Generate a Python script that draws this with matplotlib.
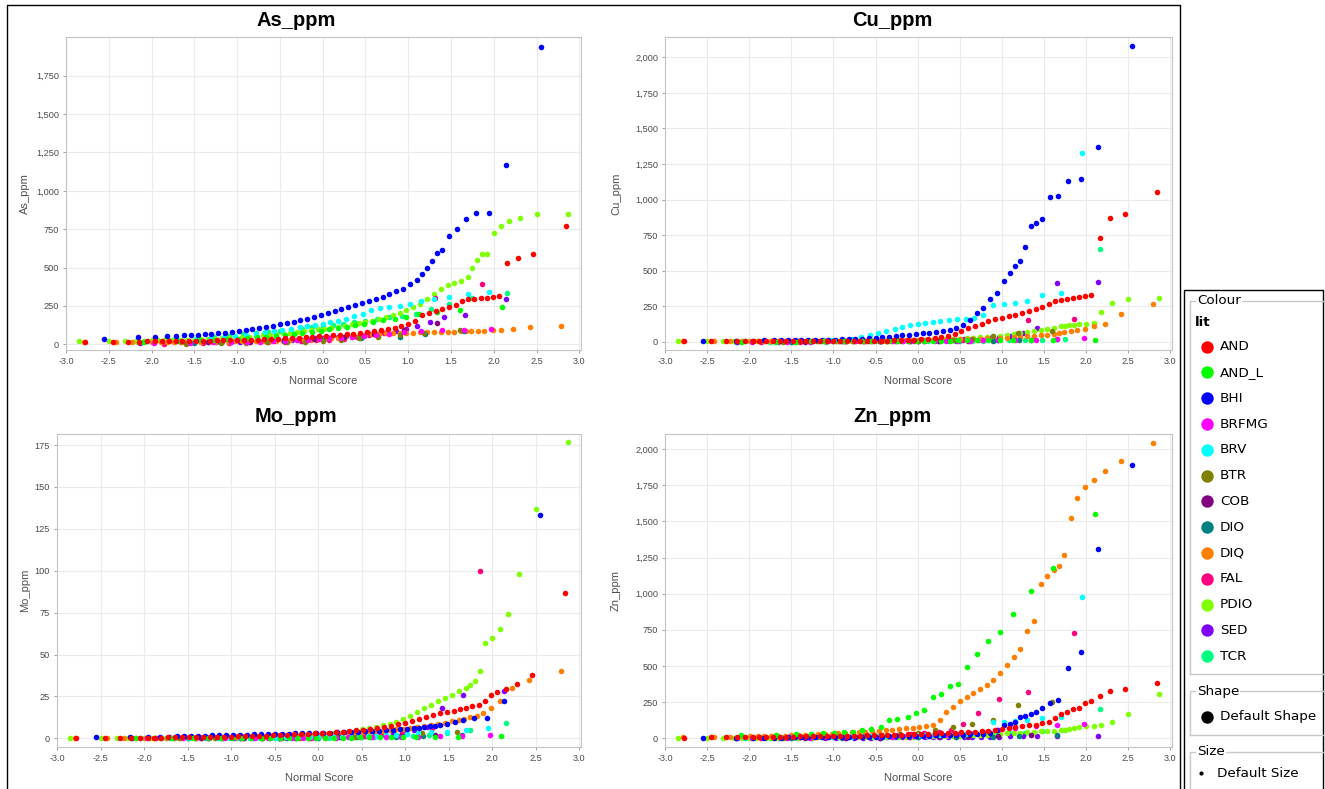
import matplotlib
matplotlib.use('Agg')
import matplotlib.pyplot as plt
from matplotlib.ticker import FixedLocator, FuncFormatter

plt.rcParams['font.family'] = ['Liberation Sans', 'DejaVu Sans']

W, H = 1325, 789

LITHS = ['AND', 'AND_L', 'BHI', 'BRFMG', 'BRV', 'BTR', 'COB', 'DIO', 'DIQ', 'FAL', 'PDIO', 'SED', 'TCR']
COLOURS = ['#ff0000', '#00ff00', '#0000ff', '#ff00ff', '#00ffff', '#808000', '#800080',
           '#008080', '#ff8000', '#ff0080', '#80ff00', '#8000ff', '#00ff80']

X_TICKS = [-3.0, -2.5, -2.0, -1.5, -1.0, -0.5, 0.0, 0.5, 1.0, 1.5, 2.0, 2.5, 3.0]
AS_YTICKS = [0, 250, 500, 750, 1000, 1250, 1500, 1750]
CU_YTICKS = [0, 250, 500, 750, 1000, 1250, 1500, 1750, 2000]
MO_YTICKS = [0, 25, 50, 75, 100, 125, 150, 175]
ZN_YTICKS = [0, 250, 500, 750, 1000, 1250, 1500, 1750, 2000]

# ---- normal scores (x) per lithology ----
AND_X = [-2.78, -2.45, -2.28, -2.15, -2.05, -1.96, -1.88, -1.80, -1.72, -1.64, -1.56,
         -1.48, -1.40, -1.32, -1.24, -1.16, -1.08, -1.00, -0.92, -0.84, -0.76, -0.68, -0.60, -0.52, -0.44, -0.36, -0.28, -0.20, -0.12, -0.04,
         0.04, 0.12, 0.20, 0.28, 0.36, 0.44, 0.52, 0.60, 0.68, 0.76, 0.84, 0.92, 1.00, 1.08, 1.16, 1.24, 1.32, 1.40, 1.48, 1.56,
         1.63, 1.70, 1.77, 1.85, 1.92, 1.99, 2.06, 2.16, 2.28, 2.46, 2.84]
DIQ_X = [-2.79, -2.42, -2.23, -2.09, -1.99, -1.89, -1.82, -1.74,
         -1.66, -1.58, -1.50, -1.42, -1.34, -1.26, -1.18, -1.10, -1.02, -0.94, -0.86, -0.78, -0.70, -0.62, -0.54, -0.46, -0.38, -0.30, -0.22, -0.14, -0.06,
         0.02, 0.10, 0.18, 0.26, 0.34, 0.42, 0.50, 0.58, 0.66, 0.74, 0.82, 0.90, 0.98, 1.06, 1.14, 1.22, 1.30, 1.38, 1.46, 1.54, 1.62,
         1.68, 1.74, 1.82, 1.89, 1.99, 2.09, 2.23, 2.42, 2.79]
PDIO_X = [-2.85, -2.50, -2.31, -2.18, -2.09, -2.00, -1.92, -1.86, -1.80, -1.74,
          -1.66, -1.58, -1.50, -1.42, -1.34, -1.26, -1.18, -1.10, -1.02, -0.94, -0.86, -0.78, -0.70, -0.62, -0.54, -0.46, -0.38, -0.30, -0.22, -0.14, -0.06,
          0.02, 0.10, 0.18, 0.26, 0.34, 0.42, 0.50, 0.58, 0.66, 0.74, 0.82, 0.90, 0.98, 1.06, 1.14, 1.22, 1.30, 1.38, 1.46, 1.54, 1.62,
          1.70, 1.75, 1.80, 1.86, 1.92, 2.00, 2.09, 2.18, 2.31, 2.50, 2.87]
BHI_X = [-2.55, -2.16, -1.96, -1.82, -1.71, -1.62,
         -1.54, -1.46, -1.38, -1.30, -1.22, -1.14, -1.06, -0.98, -0.90, -0.82, -0.74, -0.66, -0.58, -0.50, -0.42, -0.34, -0.26,
         -0.18, -0.10, -0.02, 0.06, 0.14, 0.22, 0.30, 0.38, 0.46, 0.54, 0.62, 0.70, 0.78, 0.86, 0.94, 1.02, 1.10,
         1.16, 1.22, 1.28, 1.34, 1.40, 1.48, 1.57, 1.67, 1.79, 1.94, 2.14, 2.55]
AND_L_X = [-2.10, -1.68, -1.44, -1.27, -1.12, -0.99, -0.88, -0.77, -0.66, -0.55, -0.44, -0.34, -0.24, -0.12,
           -0.02, 0.08, 0.18, 0.28, 0.38, 0.48, 0.59, 0.71, 0.84, 0.98, 1.13, 1.34, 1.61, 2.10]
BRV_X = [-2.05, -1.70, -1.48, -1.30, -1.15, -1.02, -0.90, -0.78, -0.67, -0.57, -0.47, -0.37, -0.27, -0.18, -0.09,
         0.00, 0.09, 0.18, 0.27, 0.37, 0.47, 0.57, 0.67, 0.78, 0.90, 1.02, 1.15, 1.30, 1.48, 1.70, 1.95]
TCR_X = [-2.16, -1.75, -1.48, -1.27, -1.09, -0.93, -0.78, -0.64, -0.50, -0.37, -0.24, -0.12, 0.00,
         0.12, 0.24, 0.37, 0.50, 0.64, 0.78, 0.93, 1.09, 1.27, 1.48, 1.75, 2.16]
SED_X = [-2.14, -1.66, -1.42, -1.25, -1.10, -0.97, -0.86, -0.75, -0.65, -0.55, -0.45, -0.36, -0.27, -0.18, -0.09,
         0.00, 0.09, 0.18, 0.27, 0.36, 0.45, 0.55, 0.65, 0.75, 0.86, 0.97, 1.10, 1.25, 1.42, 1.66, 2.14]
COB_X = [-1.34, -0.85, -0.45, -0.10, 0.25, 0.60, 0.95, 1.34]
BTR_X = [-1.60, -1.19, -0.90, -0.65, -0.42, -0.21, 0.00, 0.21, 0.42, 0.65, 0.90, 1.19, 1.60]
DIO_X = [-1.50, -0.90, -0.45, 0.00, 0.45, 0.90, 1.20, 1.65]
BRFMG_X = [-1.97, -1.55, -1.28, -1.07, -0.89, -0.73, -0.58, -0.44, -0.30, -0.17, -0.04,
           0.08, 0.21, 0.34, 0.48, 0.62, 0.78, 0.95, 1.15, 1.40, 1.65, 1.97]
FAL_X = [-1.86, -1.40, -1.10, -0.86, -0.64, -0.44, -0.25, -0.08, 0.08, 0.25, 0.40, 0.54, 0.72, 0.96, 1.31, 1.86]

# ---- As_ppm ----
AS_AND = [15, 15, 18, 18, 20, 20, 20, 21, 22, 22, 22,
          23, 24, 24, 25, 26, 27, 28, 29, 30, 31, 33, 35, 37, 39, 41, 44, 46, 49, 52,
          55, 58, 62, 66, 70, 75, 80, 86, 93, 100, 108, 118, 130, 150, 190, 205, 215, 228, 240, 255,
          285, 292, 296, 300, 305, 310, 318, 532, 562, 590, 770]
AS_DIQ = [15, 12, 14, 14, 14, 15, 15, 15,
          15, 16, 16, 16, 17, 17, 18, 18, 19, 19, 20, 20, 21, 22, 23, 24, 25, 27, 29, 31, 33,
          35, 38, 41, 45, 50, 55, 60, 64, 68, 71, 73, 75, 76, 77, 78, 79, 80, 81, 82, 83, 84,
          85, 86, 87, 89, 91, 94, 98, 110, 122]
AS_PDIO = [20, 20, 22, 22, 24, 25, 25, 26, 27, 28,
           29, 30, 31, 32, 34, 36, 38, 40, 43, 46, 50, 54, 58, 62, 67, 72, 77, 82, 87, 92, 97,
           102, 108, 115, 122, 130, 138, 146, 155, 165, 176, 188, 205, 222, 240, 265, 295, 330, 360, 385, 400, 415,
           440, 500, 548, 587, 587, 722, 772, 803, 820, 846, 846]
AS_BHI = [35, 45, 48, 52, 55, 58,
          60, 62, 65, 68, 72, 76, 80, 86, 92, 98, 105, 112, 120, 130, 138, 148, 158,
          168, 180, 192, 205, 215, 228, 240, 255, 270, 284, 298, 310, 328, 345, 362, 390, 420,
          457, 498, 542, 598, 612, 705, 750, 814, 857, 857, 1165, 1940]
AS_AND_L = [15, 20, 25, 28, 32, 36, 40, 45, 50, 56, 62, 68, 75, 82, 90, 98, 106, 115, 124, 134, 145, 156, 168, 180, 195, 210, 225, 240]
AS_BRV = [20, 28, 35, 40, 48, 55, 62, 70, 78, 86, 94, 102, 110, 118, 126, 135, 145, 155, 168, 182, 200, 225, 235, 240, 250, 262, 285, 295, 310, 325, 343]
AS_TCR = [15, 25, 35, 45, 55, 64, 72, 80, 88, 95, 102, 110, 118, 125, 135, 145, 155, 165, 175, 185, 200, 230, 260, 300, 335]
AS_SED = [10, 12, 14, 15, 17, 18, 20, 22, 24, 26, 28, 30, 32, 35, 38, 41, 44, 48, 52, 56, 60, 65, 70, 78, 88, 100, 120, 146, 178, 189, 292]
AS_COB = [12, 18, 25, 35, 48, 65, 95, 140]
AS_BTR = [5, 8, 10, 12, 15, 18, 22, 28, 38, 48, 62, 75, 91]
AS_DIO = [10, 15, 20, 28, 38, 50, 70, 90]
AS_BRFMG = [8, 10, 12, 14, 16, 18, 20, 23, 26, 30, 34, 38, 43, 48, 55, 62, 70, 80, 88, 91, 94, 97]
AS_FAL = [5, 8, 10, 12, 15, 18, 22, 26, 30, 36, 45, 60, 75, 95, 305, 390]

# ---- Cu_ppm ----
CU_AND = [2, 3, 3, 3, 3, 3, 3, 3, 3, 3, 4,
          4, 4, 4, 4, 4, 4, 4, 5, 5, 5, 5, 5, 6, 7, 8, 9, 11, 13, 15,
          18, 22, 27, 33, 42, 55, 75, 95, 112, 128, 145, 160, 170, 180, 190, 200, 215, 228, 245, 265,
          285, 295, 300, 305, 312, 320, 330, 730, 870, 900, 1050]
CU_DIQ = [3, 3, 3, 3, 3, 3, 3, 3,
          3, 3, 4, 4, 4, 4, 4, 5, 5, 5, 5, 6, 6, 6, 7, 7, 8, 8, 9, 9, 10,
          10, 11, 12, 13, 14, 15, 16, 18, 19, 21, 23, 25, 27, 29, 32, 35, 38, 42, 46, 50, 56,
          62, 68, 74, 82, 92, 112, 128, 195, 268]
CU_PDIO = [2, 2, 2, 2, 2, 2, 2, 2, 2, 2,
           3, 3, 3, 3, 3, 3, 4, 4, 4, 4, 5, 5, 5, 6, 6, 7, 7, 8, 9, 10, 11,
           12, 13, 14, 16, 18, 20, 22, 25, 28, 31, 34, 37, 41, 45, 52, 60, 70, 78, 85, 92, 100,
           108, 112, 115, 118, 122, 128, 135, 206, 270, 298, 308]
CU_BHI = [7, 8, 8, 9, 9, 10,
          10, 11, 11, 12, 12, 13, 14, 15, 16, 18, 20, 22, 25, 28, 32, 36, 40,
          45, 50, 55, 60, 65, 70, 76, 84, 95, 115, 150, 200, 237, 300, 342, 430, 482,
          530, 570, 669, 815, 838, 864, 1016, 1028, 1131, 1147, 1372, 2080]
CU_AND_L = [1, 1, 1, 2, 2, 2, 3, 3, 3, 4, 4, 5, 5, 6, 6, 7, 7, 8, 8, 9, 9, 10, 10, 11, 11, 12, 13, 14]
CU_BRV = [3, 4, 5, 6, 8, 10, 14, 20, 30, 45, 60, 75, 90, 105, 115, 125, 132, 140, 148, 154, 158, 162, 170, 185, 255, 262, 272, 290, 330, 345, 1329]
CU_TCR = [1, 1, 1, 1, 1, 2, 2, 2, 2, 3, 3, 3, 4, 4, 5, 5, 6, 7, 8, 9, 10, 12, 14, 18, 653]
CU_SED = [1, 1, 2, 2, 2, 3, 3, 3, 4, 4, 5, 5, 6, 6, 7, 8, 9, 10, 11, 12, 14, 16, 18, 20, 24, 30, 40, 60, 100, 410, 420]
CU_COB = [1, 2, 3, 4, 5, 7, 10, 15]
CU_BTR = [1, 2, 3, 4, 5, 6, 8, 10, 14, 22, 40, 61, 75]
CU_DIO = [1, 2, 3, 4, 6, 8, 12, 18]
CU_BRFMG = [1, 1, 1, 2, 2, 2, 3, 3, 3, 4, 4, 5, 5, 6, 7, 8, 9, 10, 11, 14, 20, 26]
CU_FAL = [1, 1, 2, 2, 3, 3, 4, 5, 6, 7, 9, 11, 14, 20, 150, 160]

# ---- Mo_ppm ----
MO_AND = [0, 0, 0, 0.2, 0.3, 0.3, 0.4, 0.4, 0.5, 0.5, 0.5,
          0.6, 0.6, 0.7, 0.7, 0.8, 0.9, 1.0, 1.1, 1.2, 1.3, 1.4, 1.6, 1.8, 2.0, 2.2, 2.4, 2.6, 2.8, 3.0,
          3.2, 3.4, 3.7, 4.0, 4.3, 4.7, 5.1, 5.6, 6.2, 6.8, 7.5, 8.3, 9.2, 10.2, 11.5, 12.8, 14.0, 15.0, 15.8, 16.5,
          17.2, 18.0, 19.0, 20.0, 22.0, 26.0, 27.5, 29.5, 32.5, 38, 87]
MO_DIQ = [0, 0, 0, 0, 0, 0, 0.1, 0.1,
          0.2, 0.2, 0.3, 0.3, 0.4, 0.4, 0.5, 0.5, 0.6, 0.6, 0.7, 0.8, 0.9, 1.0, 1.1, 1.2, 1.3, 1.4, 1.5, 1.7, 1.9,
          2.1, 2.3, 2.5, 2.7, 3.0, 3.3, 3.6, 3.9, 4.2, 4.6, 5.0, 5.4, 5.8, 6.3, 6.8, 7.4, 8.0, 8.7, 9.4, 10.2, 11.0,
          11.8, 12.6, 13.5, 15, 18, 22, 30, 35, 40]
MO_PDIO = [0, 0, 0, 0, 0, 0, 0.1, 0.1, 0.1, 0.2,
           0.2, 0.2, 0.3, 0.3, 0.3, 0.4, 0.4, 0.5, 0.5, 0.6, 0.6, 0.7, 0.8, 0.9, 1.0, 1.1, 1.2, 1.3, 1.5, 1.7, 1.9,
           2.2, 2.5, 2.9, 3.4, 4.0, 4.6, 5.3, 6.0, 6.8, 7.8, 8.8, 10.0, 11.5, 13.5, 15.5, 18, 20, 22, 24, 26, 28,
           30, 32, 34, 40, 57, 60, 65, 74, 98, 137, 177]
MO_BHI = [1, 1, 1, 1, 1, 1.2,
          1.3, 1.4, 1.5, 1.6, 1.7, 1.8, 1.9, 2.0, 2.1, 2.2, 2.3, 2.4, 2.5, 2.6, 2.7, 2.8, 2.9,
          3.0, 3.1, 3.2, 3.3, 3.4, 3.5, 3.6, 3.8, 4.0, 4.2, 4.4, 4.6, 4.8, 5.0, 5.3, 5.6, 6.0,
          6.4, 6.8, 7.2, 7.6, 8.0, 8.5, 9.5, 11, 12, 12, 22, 133]
MO_AND_L = [0, 0, 0, 0, 0, 0, 0, 0.1, 0.1, 0.1, 0.1, 0.2, 0.2, 0.2, 0.3, 0.3, 0.3, 0.4, 0.4, 0.5, 0.5, 0.6, 0.6, 0.7, 0.8, 0.9, 1.0, 1.1]
MO_BRV = [0, 0, 0, 0.1, 0.1, 0.2, 0.2, 0.3, 0.3, 0.4, 0.4, 0.5, 0.5, 0.6, 0.6, 0.7, 0.8, 0.9, 1.0, 1.1, 1.2, 1.4, 1.6, 1.8, 2.0, 2.5, 3.0, 3.5, 4.0, 5.0, 6.0]
MO_TCR = [0, 0, 0, 0, 0, 0, 0, 0.1, 0.1, 0.2, 0.2, 0.3, 0.3, 0.4, 0.5, 0.6, 0.7, 0.8, 1.0, 1.2, 1.5, 2.0, 3.0, 5.2, 9.2]
MO_SED = [0, 0, 0, 0, 0, 0, 0.1, 0.1, 0.2, 0.2, 0.3, 0.3, 0.4, 0.5, 0.6, 0.7, 0.8, 0.9, 1.0, 1.2, 1.4, 1.6, 2.0, 2.5, 3, 4, 5, 7, 18, 26, 28]
MO_COB = [0, 0, 0.2, 0.4, 0.6, 1.0, 1.5, 2.0]
MO_BTR = [0, 0, 0.1, 0.2, 0.3, 0.4, 0.5, 0.7, 1.0, 1.5, 2.0, 3.0, 4.0]
MO_DIO = [0, 0.1, 0.2, 0.3, 0.5, 0.8, 1.2, 2.0]
MO_BRFMG = [0, 0, 0, 0, 0, 0.1, 0.1, 0.2, 0.2, 0.3, 0.3, 0.4, 0.4, 0.5, 0.6, 0.7, 0.8, 0.9, 1.0, 1.1, 1.3, 2.0]
MO_FAL = [0, 0, 0, 0.1, 0.1, 0.2, 0.3, 0.4, 0.5, 0.7, 1.0, 1.5, 2.5, 4.0, 6.0, 100]

# ---- Zn_ppm ----
ZN_AND = [5, 6, 7, 8, 9, 9, 10, 10, 11, 11, 12,
          12, 13, 13, 14, 14, 15, 15, 16, 17, 18, 19, 20, 21, 22, 23, 24, 26, 27, 29,
          31, 33, 35, 36, 38, 40, 42, 45, 47, 50, 54, 58, 62, 68, 75, 82, 90, 95, 105, 115,
          140, 165, 185, 200, 210, 245, 255, 290, 325, 340, 385]
ZN_DIQ = [8, 10, 12, 13, 14, 15, 16, 17,
          18, 19, 20, 22, 24, 26, 28, 30, 33, 35, 38, 41, 44, 47, 50, 54, 57, 60, 64, 68, 73,
          78, 82, 92, 125, 180, 220, 258, 288, 312, 338, 372, 405, 455, 505, 565, 615, 745, 810, 1065, 1120, 1165,
          1190, 1270, 1526, 1660, 1737, 1784, 1846, 1915, 2044]
ZN_PDIO = [2, 2, 3, 3, 3, 3, 3, 3, 4, 4,
           4, 4, 4, 5, 5, 5, 6, 6, 6, 7, 7, 8, 8, 9, 9, 10, 10, 11, 11, 12, 12,
           13, 13, 14, 14, 15, 16, 17, 18, 20, 22, 25, 28, 31, 34, 37, 40, 43, 46, 49, 51, 53,
           56, 58, 62, 68, 76, 82, 88, 95, 115, 168, 306]
ZN_BHI = [3, 4, 4, 5, 5, 5,
          6, 6, 6, 7, 7, 7, 8, 8, 9, 9, 10, 10, 11, 11, 12, 13, 14,
          15, 16, 17, 18, 19, 20, 21, 22, 24, 26, 28, 30, 33, 40, 55, 90, 102,
          110, 150, 155, 165, 185, 208, 244, 268, 489, 597, 1311, 1892]
ZN_AND_L = [20, 25, 28, 30, 35, 40, 43, 46, 55, 65, 75, 128, 135, 150, 178, 195, 286, 305, 362, 376, 495, 583, 670, 736, 862, 1020, 1180, 1553]
ZN_BRV = [5, 6, 7, 8, 9, 10, 11, 12, 13, 14, 15, 16, 17, 18, 19, 20, 22, 24, 26, 28, 30, 33, 36, 40, 113, 115, 120, 130, 140, 150, 979]
ZN_TCR = [3, 4, 5, 5, 6, 7, 8, 9, 10, 11, 12, 13, 14, 15, 17, 19, 21, 24, 27, 30, 35, 40, 48, 60, 205]
ZN_SED = [2, 2, 3, 3, 3, 4, 4, 4, 5, 5, 5, 6, 6, 6, 7, 7, 7, 8, 8, 8, 9, 9, 10, 10, 11, 12, 13, 14, 15, 17, 18]
ZN_COB = [3, 4, 5, 6, 8, 10, 14, 20]
ZN_BTR = [5, 8, 12, 16, 22, 30, 40, 55, 75, 100, 130, 230, 250]
ZN_DIO = [3, 4, 5, 6, 8, 10, 14, 20]
ZN_BRFMG = [3, 4, 5, 6, 7, 8, 9, 10, 12, 14, 16, 18, 20, 24, 28, 34, 42, 55, 70, 85, 95, 101]
ZN_FAL = [5, 8, 10, 12, 15, 18, 22, 28, 35, 45, 60, 100, 175, 275, 320, 731]

X = {'AND': AND_X, 'AND_L': AND_L_X, 'BHI': BHI_X, 'BRFMG': BRFMG_X, 'BRV': BRV_X, 'BTR': BTR_X,
     'COB': COB_X, 'DIO': DIO_X, 'DIQ': DIQ_X, 'FAL': FAL_X, 'PDIO': PDIO_X, 'SED': SED_X, 'TCR': TCR_X}


def panel_data(prefix):
    g = globals()
    return {lith: g[prefix + '_' + lith] for lith in LITHS}


PANELS = [
    dict(title='As_ppm', data=panel_data('AS'), box=(66, 36.7, 581, 350), ylim=(-37, 2004),
         yticks=AS_YTICKS, title_xy=(296, 20), ylab_x=25),
    dict(title='Cu_ppm', data=panel_data('CU'), box=(665, 36.7, 1172, 350), ylim=(-58, 2145),
         yticks=CU_YTICKS, title_xy=(892, 20), ylab_x=616),
    dict(title='Mo_ppm', data=panel_data('MO'), box=(57, 434, 581, 746.7), ylim=(-5.0, 181.6),
         yticks=MO_YTICKS, title_xy=(296, 417), ylab_x=25),
    dict(title='Zn_ppm', data=panel_data('ZN'), box=(665, 434, 1172, 747), ylim=(-60, 2104),
         yticks=ZN_YTICKS, title_xy=(892, 417), ylab_x=616),
]

fig = plt.figure(figsize=(W / 100, H / 100), dpi=100)
fig.patch.set_facecolor('white')

for p in PANELS:
    l, t, r, b = p['box']
    ax = fig.add_axes([l / W, 1 - b / H, (r - l) / W, (b - t) / H])
    ax.set_xlim(-3.0, 3.02)
    ax.set_ylim(*p['ylim'])
    ax.set_axisbelow(True)
    ax.grid(True, color='#ebebeb', lw=0.8)
    for lith, col in reversed(list(zip(LITHS, COLOURS))):
        ax.scatter(X[lith], p['data'][lith], s=16, c=col, linewidths=0)
    ax.xaxis.set_major_locator(FixedLocator(X_TICKS))
    ax.xaxis.set_major_formatter(FuncFormatter(lambda v, pos: f'{v:.1f}'))
    ax.yaxis.set_major_locator(FixedLocator(p['yticks']))
    ax.yaxis.set_major_formatter(FuncFormatter(lambda v, pos: f'{int(round(v)):,}'))
    ax.tick_params(direction='out', length=2, width=0.6, color='#909090',
                   labelsize=6.6, labelcolor='#4a4a4a', pad=3)
    for s in ax.spines.values():
        s.set_color('#c4c4c4')
        s.set_linewidth(0.8)
    ax.set_xlabel('Normal Score', fontsize=8, color='#505050')
    ax.xaxis.label.set_va('center')
    ax.xaxis.set_label_coords(0.5, -(381 - 350) / (b - t))
    ax.set_ylabel(p['title'], fontsize=8, color='#505050')
    ax.yaxis.label.set_va('center')
    ax.yaxis.set_label_coords((p['ylab_x'] - l) / (r - l), 0.5)
    fig.text(p['title_xy'][0] / W, 1 - p['title_xy'][1] / H, p['title'], ha='center', va='center',
             fontsize=14.5, fontweight='bold', color='black')

# ---- overlay: borders and legend panel ----
ov = fig.add_axes([0, 0, 1, 1], facecolor='none')
ov.set_xlim(0, W)
ov.set_ylim(H, 0)
ov.axis('off')
ov.plot([7, 7, 1180, 1180], [H, 5, 5, H], color='black', lw=1.0)
ov.plot([1184, 1184, 1323, 1323], [H, 290, 290, H], color='black', lw=1.0)

LEG_FONT = ['DejaVu Sans']
GRP = '#c8c8c8'


def group_box(top, bottom, title):
    ov.plot([1323, 1190, 1190], [top, top, bottom if bottom else H], color=GRP, lw=1.0)
    if bottom:
        ov.plot([1190, 1323], [bottom, bottom], color=GRP, lw=1.0)
    ov.text(1197, top, title, family=LEG_FONT, fontsize=9.7, va='center', ha='left',
            bbox=dict(fc='white', ec='none', pad=0.8))


group_box(300.7, 674.3, 'Colour')
ov.text(1195, 322.7, 'lit', family=LEG_FONT, fontsize=9.7, fontweight='bold', va='center', ha='left')
y0, dy = 346.7, 25.78
for i, (lith, col) in enumerate(zip(LITHS, COLOURS)):
    yy = y0 + i * dy
    ov.scatter([1207.3], [yy], s=80, c=col, linewidths=0)
    ov.text(1220, yy, lith, family=LEG_FONT, fontsize=9.7, va='center', ha='left')

group_box(691, 735, 'Shape')
ov.scatter([1207.3], [716.7], s=80, c='black', linewidths=0)
ov.text(1220, 716.7, 'Default Shape', family=LEG_FONT, fontsize=9.7, va='center', ha='left')

group_box(751.7, None, 'Size')
ov.scatter([1200.5], [773.3], s=9, c='black', linewidths=0)
ov.text(1216.7, 773.3, 'Default Size', family=LEG_FONT, fontsize=9.7, va='center', ha='left')

fig.savefig('out.png', dpi=100)
